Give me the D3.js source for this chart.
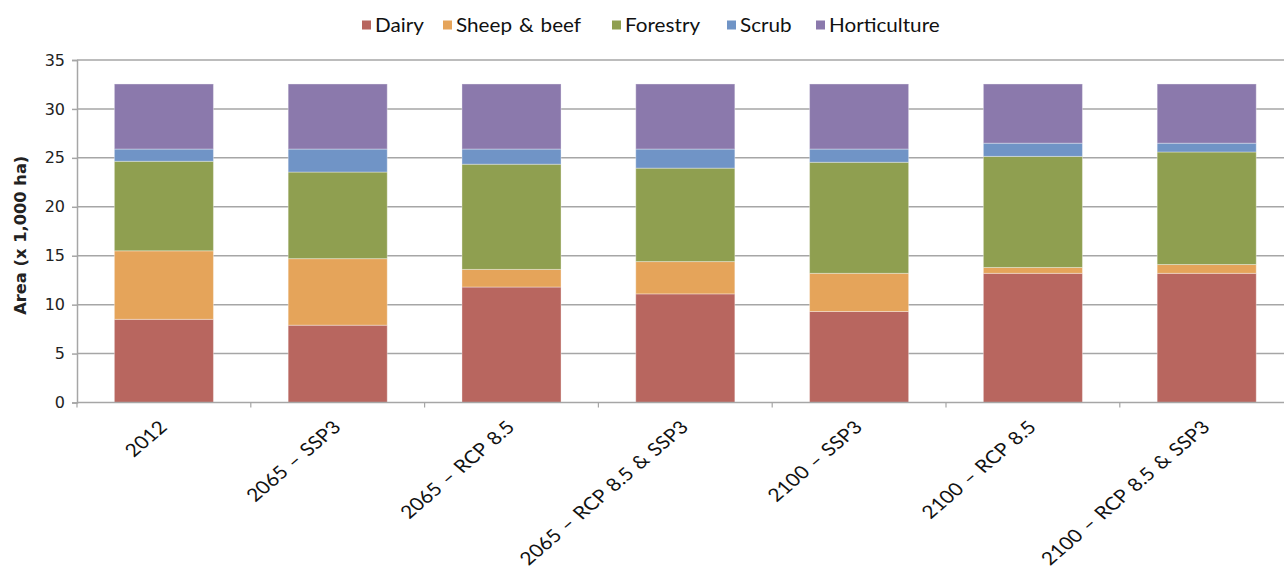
<!DOCTYPE html>
<html>
<head>
<meta charset="utf-8">
<script src="https://cdn.jsdelivr.net/npm/d3@7"></script>
<style>
  html, body { margin: 0; padding: 0; background: #fff; }
  svg { display: block; }
</style>
</head>
<body>
<svg id="chart" width="1284" height="568"></svg>
<script>
// Land-use area by scenario (x 1,000 ha)
const scenarios = ["2012", "2065 – SSP3", "2065 – RCP 8.5", "2065 – RCP 8.5 & SSP3",
                   "2100 – SSP3", "2100 – RCP 8.5", "2100 – RCP 8.5 & SSP3"];
const landUses = ["Dairy", "Sheep & beef", "Forestry", "Scrub", "Horticulture"];
const dairy        = [8.5, 7.9, 11.8, 11.1, 9.3, 13.2, 13.2];
const sheepBeef    = [7.0, 6.8, 1.8, 3.3, 3.9, 0.6, 0.9];
const forestry     = [9.15, 8.85, 10.75, 9.55, 11.35, 11.35, 11.5];
const scrub        = [1.25, 2.35, 1.55, 1.95, 1.35, 1.35, 0.9];
const horticulture = [6.65, 6.65, 6.65, 6.65, 6.65, 6.05, 6.05];
const yTicks = [0, 5, 10, 15, 20, 25, 30, 35];
const colours = ["#B8665F", "#E5A45A", "#8F9F50", "#7094C6", "#8B79AC"];

const seriesValues = [dairy, sheepBeef, forestry, scrub, horticulture];
const rows = scenarios.map((s, i) => {
  const r = { scenario: s };
  landUses.forEach((k, j) => r[k] = seriesValues[j][i]);
  return r;
});

const svg = d3.select("#chart");
const plotLeft = 77, plotTop = 60, plotBottom = 402.5;
const labelStretch = 1.17;  // category labels are drawn horizontally widened
const legendStretch = 1.1;

const x = d3.scaleBand().domain(scenarios)
  .range([plotLeft, plotLeft + 7 * 173.8])
  .paddingInner(0.43).paddingOuter(0.215);
const y = d3.scaleLinear().domain([0, 35]).range([plotBottom, plotTop]);
const colour = d3.scaleOrdinal().domain(landUses).range(colours);

// horizontal gridlines
svg.append("g")
  .selectAll("line").data(yTicks.filter(t => t > 0)).join("line")
  .attr("x1", plotLeft).attr("x2", 1284)
  .attr("y1", d => y(d)).attr("y2", d => y(d))
  .attr("stroke", "#a6a6a6").attr("stroke-width", 1.5);

// y axis
const yAxis = svg.append("g")
  .attr("transform", `translate(${plotLeft},0)`)
  .call(d3.axisLeft(y).tickValues(yTicks).tickSize(5).tickPadding(7));
yAxis.select(".domain").attr("stroke", "#a6a6a6").attr("stroke-width", 1.5);
yAxis.selectAll(".tick line").attr("stroke", "#a6a6a6").attr("stroke-width", 1.5);
yAxis.selectAll(".tick text")
  .attr("font-family", "DejaVu Sans, Verdana, sans-serif")
  .attr("font-size", 16).attr("fill", "#222");

// y axis title
svg.append("text")
  .attr("transform", `translate(26,${(plotTop + plotBottom) / 2 + 4}) rotate(-90)`)
  .attr("text-anchor", "middle")
  .attr("font-family", "DejaVu Sans, Verdana, sans-serif")
  .attr("font-weight", "bold").attr("font-size", 16.3).attr("fill", "#222")
  .text("Area (x 1,000 ha)");

// stacked bars
const stacked = d3.stack().keys(landUses)(rows);
svg.append("g")
  .selectAll("g").data(stacked).join("g")
  .attr("fill", d => colour(d.key))
  .selectAll("rect").data(d => d).join("rect")
  .attr("x", d => x(d.data.scenario))
  .attr("width", x.bandwidth())
  .attr("y", d => y(d[1]))
  .attr("height", d => y(d[0]) - y(d[1]))
  .attr("stroke", "rgba(255,255,255,0.35)").attr("stroke-width", 1);

// x axis baseline and category boundary ticks
const step = x.step();
const x0 = x.range()[0];
svg.append("line")
  .attr("x1", plotLeft).attr("x2", 1284)
  .attr("y1", plotBottom).attr("y2", plotBottom)
  .attr("stroke", "#a6a6a6").attr("stroke-width", 1.5);
svg.append("g")
  .selectAll("line").data(d3.range(scenarios.length + 1)).join("line")
  .attr("x1", i => x0 + i * step).attr("x2", i => x0 + i * step)
  .attr("y1", plotBottom).attr("y2", plotBottom + 5)
  .attr("stroke", "#a6a6a6").attr("stroke-width", 1.2);

// rotated category labels
svg.append("g")
  .selectAll("text").data(scenarios).join("text")
  .attr("transform", d => `translate(${x(d) + x.bandwidth() / 2 - 6},${plotBottom + 17}) scale(${labelStretch},1) rotate(-45)`)
  .attr("text-anchor", "end")
  .attr("dy", "0.7em")
  .attr("font-family", "Lato, 'Open Sans', sans-serif")
  .attr("font-size", 18).attr("word-spacing", 1.5).attr("fill", "#111")
  .text(d => d);

// legend
const legendX = [362, 443, 612, 727, 816];
const legend = svg.append("g")
  .selectAll("g").data(landUses).join("g")
  .attr("transform", (d, i) => `translate(${legendX[i]},25)`);
legend.append("rect")
  .attr("x", 0).attr("y", -4.5).attr("width", 9).attr("height", 9)
  .attr("fill", d => colour(d));
legend.append("text")
  .attr("transform", `translate(13,0) scale(${legendStretch},1)`)
  .attr("dy", "0.35em")
  .attr("font-family", "Lato, 'Open Sans', sans-serif")
  .attr("font-size", 18.8).attr("word-spacing", 1.5).attr("fill", "#111")
  .text(d => d);
</script>
</body>
</html>
